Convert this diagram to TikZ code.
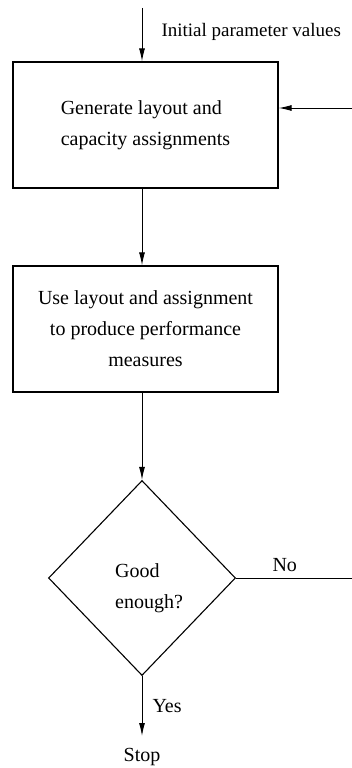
\documentclass[tikz,border=0pt]{standalone}
\usepackage{fontspec}
\setmainfont{Liberation Serif}
\usetikzlibrary{shapes.geometric,arrows.meta}
\begin{document}
\begin{tikzpicture}[x=1pt,y=-1pt,
  every node/.style={font=\fontsize{20}{31}\selectfont},
  procbox/.style={draw,line width=1.2pt,minimum width=265pt,minimum height=126pt,inner sep=0pt},
  decision/.style={draw,diamond,line width=1.1pt,minimum width=187pt,minimum height=195pt,inner sep=0pt},
  flow/.style={line width=1pt,-{Latex[length=13pt,width=6pt]}},
  plain/.style={line width=1pt},
  tag/.style={inner sep=0pt,anchor=west}]
\useasboundingbox (0,0) rectangle (352,768);

\node[procbox,align=left] (gen) at (145.5,125)
  {Generate layout and\\capacity assignments};
\node[procbox,align=center] (use) at (145.5,329)
  {Use layout and assignment\\to produce performance\\measures};
\node[decision] (good) at (142,578) {};
\node[inner sep=0pt,align=left] (goodtext) at (149,588) {Good\\enough?};
\node[inner sep=0pt] (stop) at (142,757) {Stop};

\coordinate (start) at (142,8);
\coordinate (back) at (352,108);
\coordinate (noend) at (352,578);
\coordinate (yesend) at (142,736);

\draw[flow] (start) -- (start |- gen.north)
  node[tag,pos=0.45,xshift=19pt,font=\fontsize{19}{24}\selectfont] {Initial parameter values};
\draw[flow] (back) -- (back -| gen.east);
\draw[flow] (gen.south -| start) -- (use.north -| start);
\draw[flow] (use.south -| start) -- (good.north);
\draw[plain] (good.east) -- (noend)
  node[pos=0.42,above=6pt,inner sep=0pt] {No};
\draw[flow] (good.south) -- (yesend)
  node[tag,midway,xshift=10pt] {Yes};
\end{tikzpicture}
\end{document}
